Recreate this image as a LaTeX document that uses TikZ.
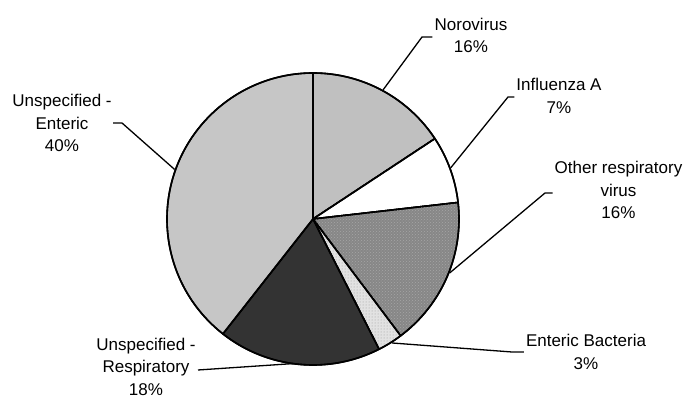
\documentclass[tikz,border=0pt]{standalone}
\usepackage{fontspec}
\setmainfont{Liberation Sans}
\usetikzlibrary{patterns,calc}
\definecolor{cNoro}{HTML}{C0C0C0}
\definecolor{cInfl}{HTML}{FFFFFF}
\definecolor{cOther}{HTML}{878787}
\definecolor{cOtherPat}{HTML}{A6A6A6}
\definecolor{cEB}{HTML}{E2E2E2}
\definecolor{cUR}{HTML}{333333}
\definecolor{cUE}{HTML}{C6C6C6}
\tikzset{
  slice/.style={draw=black, line width=1.6pt, line join=round},
  lbl/.style={align=center, font=\fontsize{17}{22.5}\selectfont, inner sep=2pt},
  leader/.style={draw=black, line width=1.3pt}
}
\newcommand{\pieslice}[3]{%
  \filldraw[slice, fill=#3] (ctr) -- ++(#1:146) arc[start angle=#1, end angle=#2, radius=146] -- cycle;}
\begin{document}
\begin{tikzpicture}[x=1pt,y=1pt]
\useasboundingbox (0,0) rectangle (684,398);
\coordinate (ctr) at (313,179);
% slices
\pieslice{90}{33.4}{cNoro}
\pieslice{33.4}{6.5}{cInfl}
\pieslice{6.5}{-53.1}{cOther}
\pieslice{-53.1}{-63.1}{cEB}
\pieslice{-63.1}{-128.1}{cUR}
\pieslice{-128.1}{-270}{cUE}
% subtle textures
\fill[pattern=crosshatch dots, pattern color=cOtherPat] (ctr) -- ++(6.5:145) arc[start angle=6.5, end angle=-53.1, radius=145] -- cycle;
\fill[pattern=dots, pattern color=gray!80] (ctr) -- ++(-53.1:145) arc[start angle=-53.1, end angle=-63.1, radius=145] -- cycle;
\draw[slice] (ctr) circle[radius=146];
\foreach \a in {90,33.4,6.5,-53.1,-63.1,-128.1} \draw[slice] (ctr) -- ++(\a:146);
% anchor points on the pie
\coordinate (pNoro) at ($(ctr)+(61.5:147)$);
\coordinate (pInfl) at ($(ctr)+(20.4:147)$);
\coordinate (pOther) at ($(ctr)+(-21.5:147)$);
\coordinate (pEB) at ($(ctr)+(-57.5:147)$);
\coordinate (pUR) at ($(ctr)+(-97.9:146)$);
\coordinate (pUE) at ($(ctr)+(160.3:147)$);
% labels
\node[lbl] (nNoro) at (471,362.5) {Norovirus\\16\%};
\node[lbl] (nInfl) at (559,302) {Influenza A\\7\%};
\node[lbl] (nOther) at (618.5,208) {Other respiratory\\virus\\16\%};
\node[lbl] (nEB) at (586,46) {Enteric Bacteria\\3\%};
\node[lbl] (nUR) at (146,31.5) {Unspecified -\\Respiratory\\18\%};
\node[lbl] (nUE) at (62,275) {Unspecified -\\Enteric\\40\%};
% elbows and ends
\coordinate (eNoro) at (422,361);
\coordinate (eInfl) at (508,301);
\coordinate (eOther) at (545,205);
\coordinate (eEB) at (512,46);
\coordinate (eUE) at (122,275);
\coordinate (fUE) at (113,275);
\coordinate (fUR) at (198,28);
\draw[leader] (pNoro) -- (eNoro) -- (eNoro -| nNoro.west);
\draw[leader] (pInfl) -- (eInfl) -- (eInfl -| nInfl.west);
\draw[leader] (pOther) -- (eOther) -- (eOther -| nOther.west);
\draw[leader] (pEB) -- (eEB) -- (eEB -| nEB.west);
\draw[leader] (pUR) -- (fUR);
\draw[leader] (pUE) -- (eUE) -- (fUE);
\end{tikzpicture}
\end{document}
